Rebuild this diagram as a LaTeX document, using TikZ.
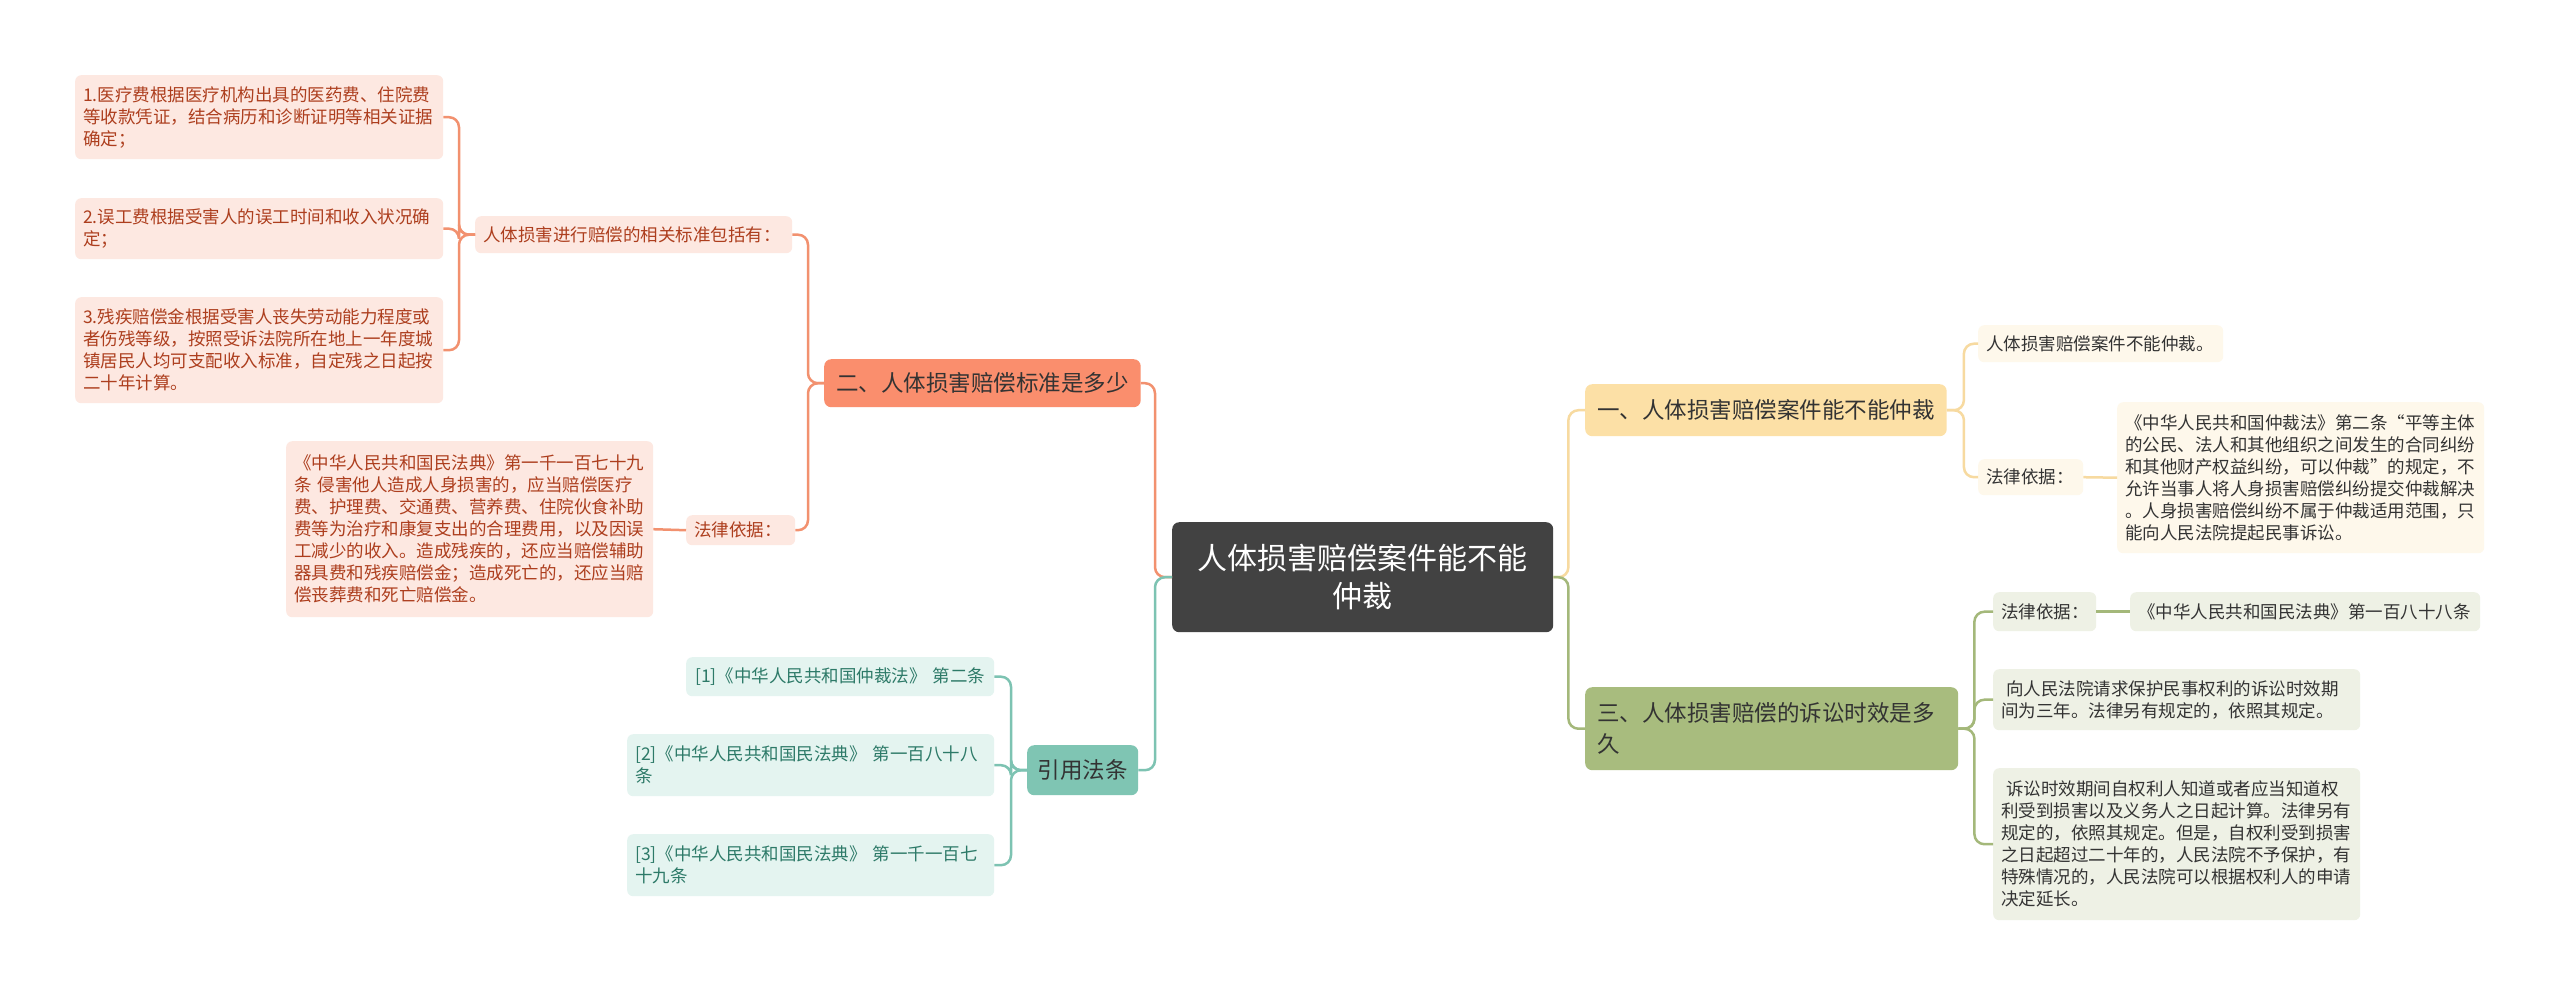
\documentclass[tikz,border=0pt]{standalone}
\usepackage{fontspec}
\setmainfont{Noto Sans CJK SC}
\definecolor{cfill}{HTML}{424242}
\definecolor{ofill}{HTML}{FA8E6D}
\definecolor{osub}{HTML}{FDE8E1}
\definecolor{oline}{HTML}{F2916F}
\definecolor{otext}{HTML}{AD3E1E}
\definecolor{yfill}{HTML}{FCE0A6}
\definecolor{ysub}{HTML}{FEF8EB}
\definecolor{yline}{HTML}{F7DAA0}
\definecolor{gfill}{HTML}{A8BC7E}
\definecolor{gsub}{HTML}{EEF1E5}
\definecolor{gline}{HTML}{A4B87A}
\definecolor{tfill}{HTML}{7FC5B3}
\definecolor{tsub}{HTML}{E4F4F0}
\definecolor{tline}{HTML}{7DC3B2}
\definecolor{ttext}{HTML}{2D7A68}
\definecolor{dtext}{HTML}{333333}
\tikzset{
  subbox/.style={rounded corners=6pt, inner xsep=8pt, inner ysep=0pt, anchor=north west,
    font=\fontsize{17.5}{22}\selectfont, align=left},
  mainbox/.style={rounded corners=7pt, inner xsep=12pt, inner ysep=0pt, anchor=north west,
    font=\fontsize{22.5}{31}\selectfont, text=dtext},
  osubbox/.style={subbox, fill=osub, text=otext},
  ysubbox/.style={subbox, fill=ysub, text=dtext},
  gsubbox/.style={subbox, fill=gsub, text=dtext},
  tsubbox/.style={subbox, fill=tsub, text=ttext},
  conn/.style={line width=2.5pt, rounded corners=10pt},
  oconn/.style={conn, draw=oline},
  yconn/.style={conn, draw=yline},
  gconn/.style={conn, draw=gline},
  tconn/.style={conn, draw=tline},
}
\begin{document}
\begin{tikzpicture}[x=1pt,y=-1pt]
\useasboundingbox[fill=white] (0,0) rectangle (2560,997);

% center
\node[rounded corners=7pt, fill=cfill, text=white, anchor=north west, inner sep=0pt,
  minimum width=381pt, minimum height=110pt, align=center,
  font=\fontsize{30}{38}\selectfont] (c) at (1172,522) {人体损害赔偿案件能不能\\仲裁};

% orange branch
\node[mainbox, fill=ofill, minimum width=314pt, minimum height=48pt] (o2nd) at (824,359) {二、人体损害赔偿标准是多少};
\node[osubbox, text width=301pt, minimum height=37pt] (oa) at (475,216) {人体损害进行赔偿的相关标准包括有：};
\node[osubbox, text width=352pt, minimum height=84pt] (o1) at (75,75) {1.医疗费根据医疗机构出具的医药费、住院费\\等收款凭证，结合病历和诊断证明等相关证据\\确定；};
\node[osubbox, text width=352pt, minimum height=61pt] (o2) at (75,198) {2.误工费根据受害人的误工时间和收入状况确\\定；};
\node[osubbox, text width=352pt, minimum height=106pt] (o3) at (75,297) {3.残疾赔偿金根据受害人丧失劳动能力程度或\\者伤残等级，按照受诉法院所在地上一年度城\\镇居民人均可支配收入标准，自定残之日起按\\二十年计算。};
\node[osubbox, text width=93pt, minimum height=30pt] (oc) at (686,515) {法律依据：};
\node[osubbox, text width=351pt, minimum height=176pt] (ob) at (286,441) {《中华人民共和国民法典》第一千一百七十九\\条 侵害他人造成人身损害的，应当赔偿医疗\\费、护理费、交通费、营养费、住院伙食补助\\费等为治疗和康复支出的合理费用，以及因误\\工减少的收入。造成残疾的，还应当赔偿辅助\\器具费和残疾赔偿金；造成死亡的，还应当赔\\偿丧葬费和死亡赔偿金。};

% teal branch
\node[mainbox, fill=tfill, minimum width=111pt, minimum height=50pt, inner xsep=10pt] (t) at (1027,745) {引用法条};
\node[tsubbox, text width=290pt, minimum height=39pt, inner xsep=9pt] (t1) at (686,657) {[1]《中华人民共和国仲裁法》 第二条};
\node[tsubbox, text width=351pt, minimum height=62pt] (t2) at (627,734) {[2]《中华人民共和国民法典》 第一百八十八\\条};
\node[tsubbox, text width=351pt, minimum height=62pt] (t3) at (627,834) {[3]《中华人民共和国民法典》 第一千一百七\\十九条};

% yellow branch
\node[mainbox, fill=yfill, minimum width=361pt, minimum height=52pt] (y1) at (1585,384) {一、人体损害赔偿案件能不能仲裁};
\node[ysubbox, text width=229pt, minimum height=37pt] (ya) at (1978,325) {人体损害赔偿案件不能仲裁。};
\node[ysubbox, text width=89pt, minimum height=36pt] (yb) at (1978,459) {法律依据：};
\node[ysubbox, text width=351pt, minimum height=151pt] (yc) at (2117,402) {《中华人民共和国仲裁法》第二条“平等主体\\的公民、法人和其他组织之间发生的合同纠纷\\和其他财产权益纠纷，可以仲裁”的规定，不\\允许当事人将人身损害赔偿纠纷提交仲裁解决\\。人身损害赔偿纠纷不属于仲裁适用范围，只\\能向人民法院提起民事诉讼。};

% green branch
\node[mainbox, fill=gfill, text width=349pt, minimum height=83pt, align=left] (g) at (1585,687) {三、人体损害赔偿的诉讼时效是多\\久};
\node[gsubbox, text width=87pt, minimum height=39pt] (ga) at (1993,592) {法律依据：};
\node[gsubbox, text width=334pt, minimum height=39pt] (gb) at (2130,592) {《中华人民共和国民法典》第一百八十八条};
\node[gsubbox, text width=351pt, minimum height=61pt] (gc) at (1993,669) {\hspace*{5pt}向人民法院请求保护民事权利的诉讼时效期\\间为三年。法律另有规定的，依照其规定。};
\node[gsubbox, text width=351pt, minimum height=152pt] (gd) at (1993,768) {\hspace*{5pt}诉讼时效期间自权利人知道或者应当知道权\\利受到损害以及义务人之日起计算。法律另有\\规定的，依照其规定。但是，自权利受到损害\\之日起超过二十年的，人民法院不予保护，有\\特殊情况的，人民法院可以根据权利人的申请\\决定延长。};

% connectors
\draw[oconn] (c.west) -- ++(-17,0) |- (o2nd.east);
\draw[tconn] (c.west) -- ++(-17,0) |- (t.east);
\draw[oconn] (o2nd.west) -- ++(-16,0) |- (oa.east);
\draw[oconn] (o2nd.west) -- ++(-16,0) |- (oc.east);
\draw[oconn] (oa.west) -- ++(-16,0) |- (o1.east);
\draw[oconn] (oa.west) -- ++(-16,0) |- (o2.east);
\draw[oconn] (oa.west) -- ++(-16,0) |- (o3.east);
\draw[oconn] (oc.west) -- (ob.east);
\draw[tconn] (t.west) -- ++(-16,0) |- (t1.east);
\draw[tconn] (t.west) -- ++(-16,0) |- (t2.east);
\draw[tconn] (t.west) -- ++(-16,0) |- (t3.east);
\draw[yconn] (c.east) -- ++(15,0) |- (y1.west);
\draw[gconn] (c.east) -- ++(15,0) |- (g.west);
\draw[yconn] (y1.east) -- ++(17,0) |- (ya.west);
\draw[yconn] (y1.east) -- ++(17,0) |- (yb.west);
\draw[yconn] (yb.east) -- (yc.west);
\draw[gconn] (g.east) -- ++(16,0) |- (ga.west);
\draw[gconn] (g.east) -- ++(16,0) |- (gc.west);
\draw[gconn] (g.east) -- ++(16,0) |- (gd.west);
\draw[gconn] (ga.east) -- (gb.west);
\end{tikzpicture}
\end{document}
